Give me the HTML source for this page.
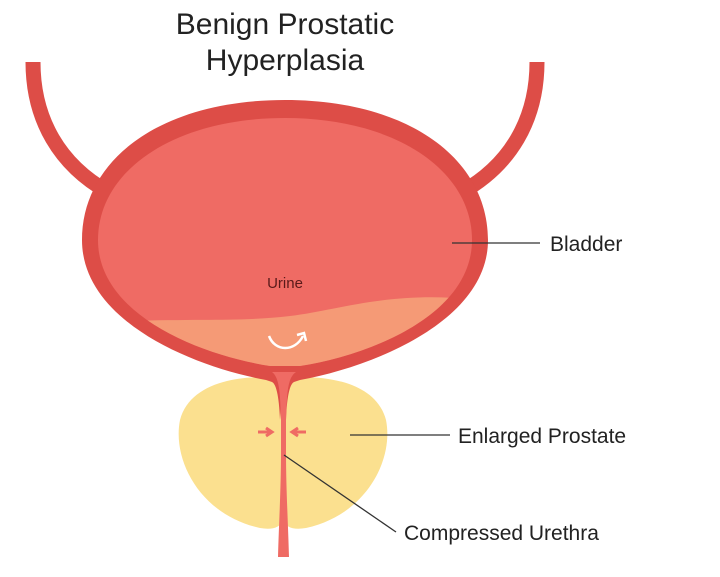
<!DOCTYPE html>
<html><head><style>body{margin:0;background:#fff}svg{display:block}text{font-family:"Liberation Sans",sans-serif}</style></head><body>
<svg width="720" height="577" viewBox="0 0 720 577" xmlns="http://www.w3.org/2000/svg">
<defs>
<clipPath id="inner"><path d="M285 118 C175 118 98 170 98 240 C98 315 200 355 270 366 L300 366 C370 355 472 315 472 240 C472 170 395 118 285 118 Z"/></clipPath>
</defs>
<rect width="720" height="577" fill="#fff"/>
<text x="285" y="34" font-size="30" text-anchor="middle" fill="#222">Benign Prostatic</text>
<text x="285" y="70" font-size="30" text-anchor="middle" fill="#222">Hyperplasia</text>
<!-- ureters -->
<path d="M33 62 C33 120 60 165 108 192" stroke="#dd4d47" stroke-width="15" fill="none"/>
<path d="M537 62 C537 120 510 165 462 192" stroke="#dd4d47" stroke-width="15" fill="none"/>
<!-- prostate -->
<path d="M283 378 C240 374 190 382 180 420 C172 460 200 515 260 528 C272 530 280 528 283 520 C286 528 294 530 306 528 C366 515 394 460 386 420 C376 382 326 374 283 378 Z" fill="#fbe08f"/>
<!-- bladder outer -->
<path d="M285 100 C160 100 82 160 82 240 C82 320 190 366 266 380 L272 382 C276 384 279 395 280 420 L283 380 L286 420 C287 395 290 384 294 382 L300 380 C376 366 488 320 488 240 C488 160 410 100 285 100 Z" fill="#dd4d47"/>
<!-- inner -->
<path d="M285 118 C175 118 98 170 98 240 C98 315 200 355 270 366 L300 366 C370 355 472 315 472 240 C472 170 395 118 285 118 Z" fill="#ef6b64"/>
<!-- urine lower -->
<path clip-path="url(#inner)" d="M90 322 C200 318 240 322 290 316 C340 310 390 290 480 300 L480 380 L90 380 Z" fill="#f59a76"/>
<!-- urethra -->
<path d="M272 372 C280 378 280 395 281 420 L281 450 C281 490 279 520 278 557 L289 557 C288 520 286 490 286 450 L286 420 C287 395 287 378 296 372 Z" fill="#ef6b64"/>
<!-- arrow -->
<path d="M269 336 C275 352 295 352 303 336" stroke="#fff" stroke-width="2.5" fill="none"/>
<path d="M297 335 L304 333 L306 341" stroke="#fff" stroke-width="2.5" fill="none"/>
<!-- compression arrows -->
<path d="M258 432 L270 432 M266 428 L272 432 L266 436" stroke="#ef6b64" stroke-width="3" fill="none"/>
<path d="M306 432 L294 432 M298 428 L292 432 L298 436" stroke="#ef6b64" stroke-width="3" fill="none"/>
<text x="285" y="288" font-size="15" text-anchor="middle" fill="#5a1a1a">Urine</text>
<!-- labels -->
<line x1="452" y1="243" x2="540" y2="243" stroke="#333" stroke-width="1.3"/>
<text x="550" y="251" font-size="21" fill="#222">Bladder</text>
<line x1="350" y1="435" x2="450" y2="435" stroke="#333" stroke-width="1.3"/>
<text x="458" y="443" font-size="21" fill="#222">Enlarged Prostate</text>
<line x1="284" y1="455" x2="396" y2="532" stroke="#333" stroke-width="1.3"/>
<text x="404" y="540" font-size="21" fill="#222">Compressed Urethra</text>
</svg>
</body></html>
